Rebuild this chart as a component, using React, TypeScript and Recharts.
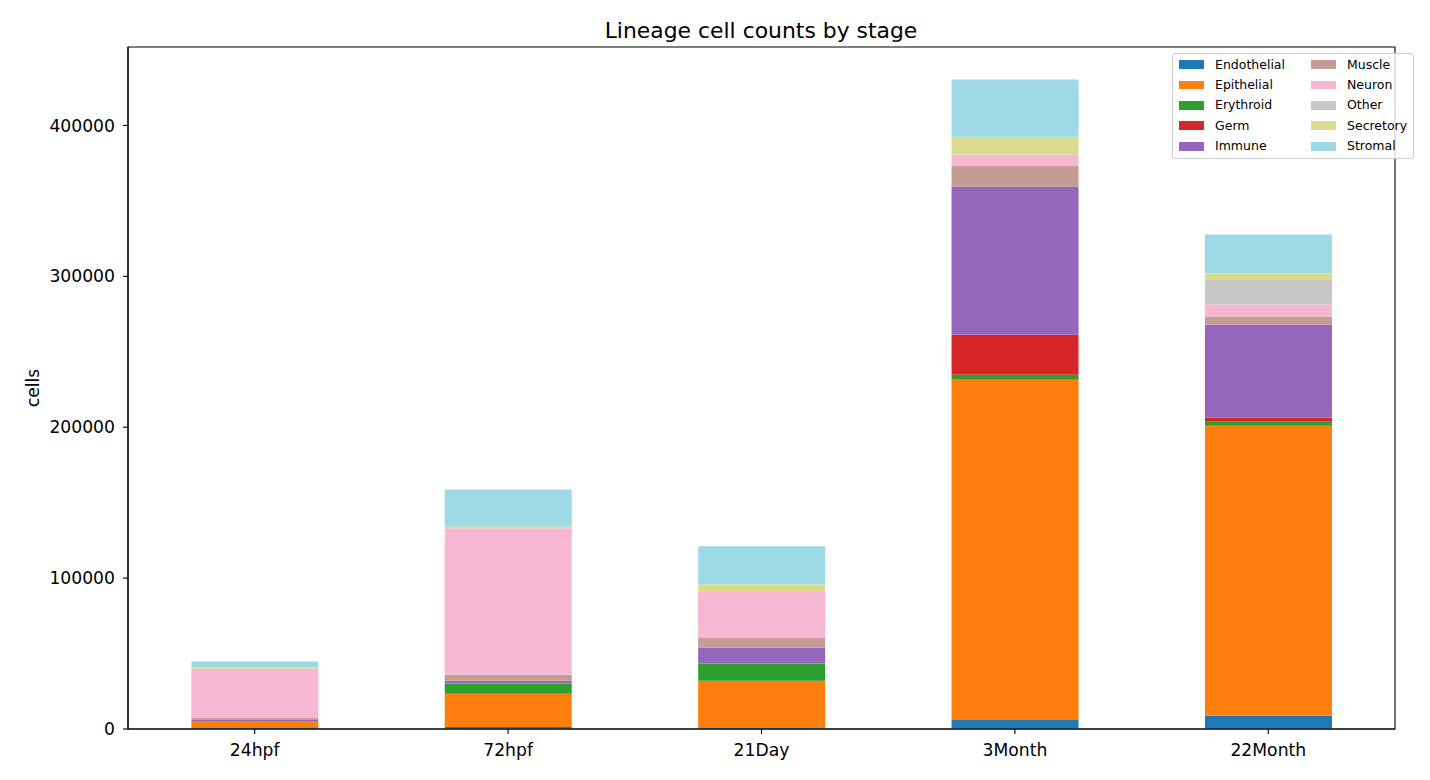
import React from "react";
import { BarChart, Bar, XAxis, YAxis, ReferenceArea } from "recharts";

const stages = ["24hpf", "72hpf", "21Day", "3Month", "22Month"];
const lineages = ["Endothelial", "Epithelial", "Erythroid", "Germ", "Immune", "Muscle", "Neuron", "Other", "Secretory", "Stromal"];
const colors = ["#1f77b4", "#ff7f0e", "#2ca02c", "#d62728", "#9467bd", "#c49c94", "#f7b6d2", "#c7c7c7", "#dbdb8d", "#9edae5"];

const endothelial = [600, 1300, 600, 6000, 8800];
const epithelial = [4000, 22100, 31400, 225500, 192200];
const erythroid = [200, 6600, 11300, 3300, 2700];
const germ = [50, 100, 100, 26500, 2700];
const immune = [1100, 1800, 10600, 98200, 61700];
const muscle = [1500, 4000, 6600, 13900, 5300];
const neuron = [32500, 97000, 30700, 6600, 8000];
const other = [100, 200, 200, 700, 16100];
const secretory = [700, 1100, 4400, 11900, 4400];
const stromal = [4000, 24500, 25200, 37800, 25900];

const yTicks = [0, 100000, 200000, 300000, 400000];
const yMax = 452000;

const seriesValues = [endothelial, epithelial, erythroid, germ, immune, muscle, neuron, other, secretory, stromal];

const data = stages.map((s, i) => {
  const row: Record<string, any> = { stage: s };
  lineages.forEach((l, j) => {
    row[l] = seriesValues[j][i];
  });
  return row;
});

const FONT = "DejaVu Sans, sans-serif";

const LegendBox = () => {
  const col1 = lineages.slice(0, 5);
  const col2 = lineages.slice(5);
  const renderCol = (items: string[], offset: number) => (
    <div style={{ display: "flex", flexDirection: "column" }}>
      {items.map((l, i) => (
        <div key={l} style={{ display: "flex", alignItems: "center", height: 20.4 }}>
          <div style={{ width: 25, height: 8.75, background: colors[offset + i], marginRight: 11, flexShrink: 0 }} />
          <span style={{ fontSize: 12.5, color: "#000", fontFamily: FONT, whiteSpace: "nowrap", lineHeight: "14px" }}>{l}</span>
        </div>
      ))}
    </div>
  );
  return (
    <div
      style={{
        position: "absolute",
        left: 1172,
        top: 53,
        display: "flex",
        gap: 26,
        background: "rgba(255,255,255,0.8)",
        border: "1px solid #cccccc",
        borderRadius: 3,
        padding: "0.5px 5px 0 6px",
        boxSizing: "border-box",
        width: 242,
        height: 106,
      }}
    >
      {renderCol(col1, 0)}
      {renderCol(col2, 5)}
    </div>
  );
};

export default function App() {
  return (
    <div style={{ position: "absolute", left: 0, top: 0, width: 1430, height: 780, background: "#fff" }}>
      <BarChart
        width={1430}
        height={780}
        data={data}
        margin={{ top: 47, right: 35, left: 0, bottom: 21 }}
        barCategoryGap="25%"
      >
        <text x={761} y={38} textAnchor="middle" fontSize={21.9} fontFamily={FONT} fill="#000">
          Lineage cell counts by stage
        </text>
        <text
          x={38.5}
          y={388}
          textAnchor="middle"
          fontSize={17.2}
          fontFamily={FONT}
          fill="#000"
          transform="rotate(-90 38.5 388)"
        >
          cells
        </text>
        <XAxis
          dataKey="stage"
          height={30}
          tickSize={5}
          tickMargin={10}
          stroke="#000"
          tick={{ fill: "#000", fontSize: 17.2, fontFamily: FONT }}
          axisLine={{ stroke: "#000", strokeWidth: 1.1 }}
          tickLine={{ stroke: "#000", strokeWidth: 1.1 }}
        />
        <YAxis
          width={128}
          domain={[0, yMax]}
          ticks={yTicks}
          tickSize={5}
          tickMargin={8}
          interval={0}
          stroke="#000"
          tick={{ fill: "#000", fontSize: 17.2, fontFamily: FONT }}
          axisLine={{ stroke: "#000", strokeWidth: 1.1 }}
          tickLine={{ stroke: "#000", strokeWidth: 1.1 }}
          allowDataOverflow
        />
        {lineages.map((l, j) => (
          <Bar key={l} dataKey={l} stackId="a" fill={colors[j]} isAnimationActive={false} />
        ))}
        <ReferenceArea
          x1={stages[0]}
          x2={stages[stages.length - 1]}
          y1={0}
          y2={yMax}
          fill="none"
          fillOpacity={0}
          stroke="#000"
          strokeWidth={1.1}
          ifOverflow="visible"
        />
      </BarChart>
      <LegendBox />
    </div>
  );
}
